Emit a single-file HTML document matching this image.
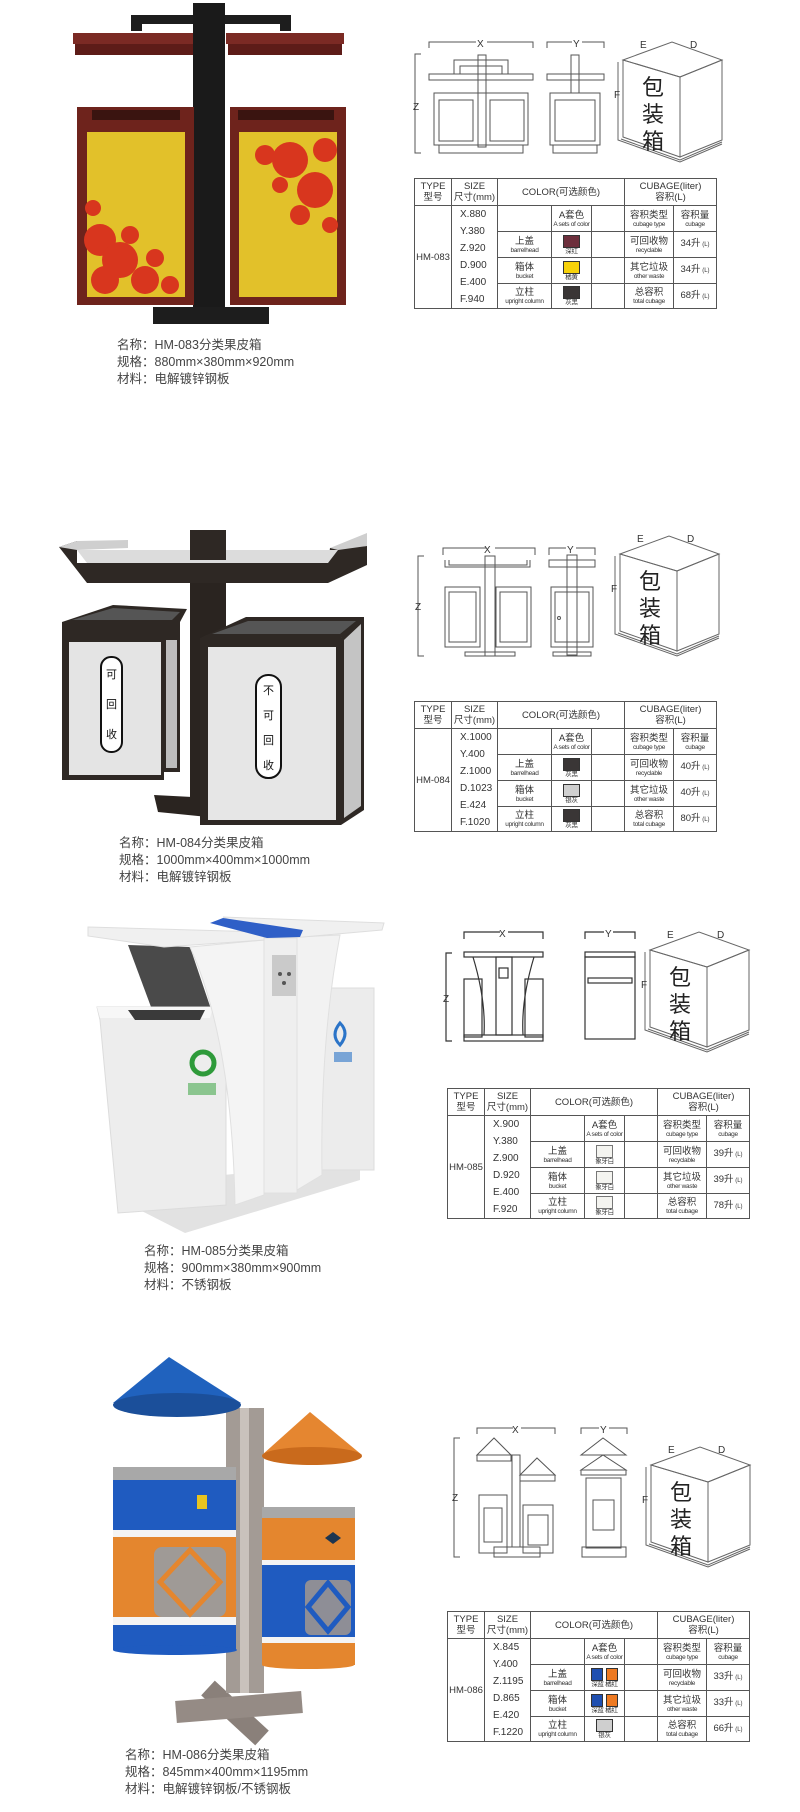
<!DOCTYPE html>
<html><head><meta charset="utf-8">
<style>
*{margin:0;padding:0;box-sizing:border-box}
body{width:800px;height:1812px;background:#fff;position:relative;overflow:hidden;font-family:"Liberation Sans","Noto Sans CJK SC",sans-serif;color:#333}
svg.bg{position:absolute;left:0;top:0}
.cap{position:absolute;font-size:12.5px;line-height:17px;color:#444;white-space:nowrap;font-family:"Liberation Sans","Noto Sans CJK SC",sans-serif}
table.t{position:absolute;border-collapse:collapse;table-layout:fixed;width:302px;height:126px;font-family:"Liberation Sans","Noto Sans CJK SC",sans-serif;color:#333}
table.t td{border:1.3px solid #555;text-align:center;vertical-align:middle;font-size:9.5px;line-height:11px;padding:0;overflow:hidden;white-space:nowrap}
.s{font-size:6.5px;line-height:7px;display:block;letter-spacing:-0.3px}
.sw{display:inline-block;width:17px;height:13px;border:1px solid #333;vertical-align:middle}
.l{font-size:6px}
table.t td.sz{line-height:17px;font-size:10px;text-align:left;padding-left:8px}
</style></head><body>
<svg class="bg" width="800" height="1812" viewBox="0 0 800 1812" xmlns="http://www.w3.org/2000/svg">
<defs>
<g id="box" fill="none" stroke="#666" stroke-width="1">
  <polygon points="5,18 54,0 104,18 62,35"/>
  <polygon points="5,18 5,95 62,115 62,35"/>
  <polygon points="62,35 104,18 104,98 62,115"/>
  <polyline points="0,20 0,98 62,120 104,102"/>
  <polyline points="3,97 62,118 104,100"/>
  <text x="22" y="6" font-size="10" fill="#333" stroke="none" font-family="Liberation Sans">E</text>
  <text x="72" y="6" font-size="10" fill="#333" stroke="none" font-family="Liberation Sans">D</text>
  <text x="-4" y="56" font-size="10" fill="#333" stroke="none" font-family="Liberation Sans">F</text>
  <text x="24" y="53" font-size="22" fill="#222" stroke="none" font-family="Noto Sans CJK SC">包</text>
  <text x="24" y="80" font-size="22" fill="#222" stroke="none" font-family="Noto Sans CJK SC">装</text>
  <text x="24" y="107" font-size="22" fill="#222" stroke="none" font-family="Noto Sans CJK SC">箱</text>
</g>
</defs>

<!-- ===== Product 1 photo ===== -->
<rect x="131" y="15" width="160" height="16" fill="#1d1d1d"/>
<rect x="142" y="24" width="138" height="8" fill="#fff"/>
<rect x="73" y="33" width="122" height="11" fill="#7b2a24"/>
<rect x="75" y="44" width="118" height="11" fill="#5d1c18"/>
<rect x="226" y="33" width="118" height="11" fill="#7b2a24"/>
<rect x="228" y="44" width="114" height="11" fill="#5d1c18"/>
<rect x="193" y="3" width="32" height="304" fill="#1a1a1a"/>
<rect x="77" y="107" width="117" height="198" fill="#6e231c"/>
<rect x="92" y="110" width="88" height="10" fill="#3a1410"/>
<rect x="87" y="132" width="98" height="165" fill="#e2c12a"/>
<rect x="230" y="107" width="116" height="198" fill="#6e231c"/>
<rect x="238" y="110" width="96" height="10" fill="#3a1410"/>
<rect x="239" y="132" width="98" height="165" fill="#e2c12a"/>
<g fill="#d8361e">
<circle cx="100" cy="240" r="16"/><circle cx="120" cy="260" r="18"/><circle cx="105" cy="280" r="14"/><circle cx="145" cy="280" r="14"/><circle cx="130" cy="235" r="9"/><circle cx="155" cy="258" r="9"/><circle cx="93" cy="208" r="8"/><circle cx="170" cy="285" r="9"/>
<circle cx="290" cy="160" r="18"/><circle cx="315" cy="190" r="18"/><circle cx="325" cy="150" r="12"/><circle cx="265" cy="155" r="10"/><circle cx="300" cy="215" r="10"/><circle cx="330" cy="225" r="8"/><circle cx="280" cy="185" r="8"/>
</g>
<rect x="153" y="307" width="116" height="17" fill="#1d1d1d"/>

<!-- drawings 1 -->
<g fill="none" stroke="#555" stroke-width="1">
<polyline points="429,48 429,42 476,42"/><polyline points="487,42 533,42 533,48"/>
<polyline points="547,48 547,42 572,42"/><polyline points="582,42 604,42 604,48"/>
<polyline points="421,54 415,54 415,153 421,153"/>
<rect x="429" y="74" width="104" height="6"/><rect x="547" y="74" width="57" height="6"/>
<path d="M454 74 V60 H508 V74 M460 74 V66 H502 V74"/>
<rect x="478" y="55" width="8" height="92"/><rect x="571" y="55" width="8" height="38"/>
<rect x="434" y="93" width="94" height="52"/><rect x="439" y="100" width="34" height="41"/><rect x="490" y="100" width="34" height="41"/>
<rect x="439" y="145" width="84" height="8"/>
<rect x="550" y="93" width="50" height="52"/><rect x="555" y="100" width="40" height="41"/><rect x="553" y="145" width="44" height="8"/>
</g>
<text x="477" y="47" font-size="10" fill="#333" font-family="Liberation Sans">X</text>
<text x="573" y="47" font-size="10" fill="#333" font-family="Liberation Sans">Y</text>
<text x="413" y="110" font-size="10" fill="#333" font-family="Liberation Sans">Z</text>
<use href="#box" x="618" y="42"/>

<!-- ===== Product 2 photo ===== -->
<rect x="190" y="530" width="36" height="280" fill="#2a2420"/>
<polygon points="154,795 250,800 238,820 158,812" fill="#2a2420"/>
<!-- roof -->
<polygon points="59,547 77,541 77,563 328,563 330,548 367,546 367,565 328,583 87,583" fill="#2e2824"/>
<polygon points="77,550 338,550 328,563 87,563" fill="#dcdcdc"/>
<polygon points="59,547 77,541 128,540 128,548 77,550" fill="#cfcfcf"/>
<polygon points="330,548 367,533 367,546 338,550" fill="#cfcfcf"/>
<rect x="190" y="530" width="36" height="30" fill="#2e2824"/>
<!-- left bin -->
<polygon points="62,622 113,605 187,609 180,622" fill="#2e2824"/>
<polygon points="72,620 113,608 180,612 172,620" fill="#555"/>
<rect x="62" y="622" width="102" height="158" fill="#2e2824"/>
<rect x="164" y="622" width="16" height="150" fill="#2e2824"/>
<rect x="69" y="642" width="92" height="133" fill="#e4e4e4"/>
<rect x="166" y="640" width="11" height="128" fill="#bdbdbd"/>
<rect x="101" y="657" width="21" height="95" rx="10" fill="#fff" stroke="#111" stroke-width="2"/>
<!-- right bin -->
<polygon points="200,638 246,617 364,617 359,630 341,638" fill="#2e2824"/>
<polygon points="212,634 248,621 356,621 340,634" fill="#555"/>
<rect x="200" y="638" width="141" height="187" fill="#2e2824"/>
<polygon points="341,638 364,617 364,810 341,825" fill="#2e2824"/>
<rect x="208" y="647" width="128" height="173" fill="#e6e6e6"/>
<polygon points="344,640 361,624 361,806 344,818" fill="#c4c4c4"/>
<rect x="256" y="675" width="25" height="103" rx="12" fill="#fff" stroke="#111" stroke-width="2"/>
<g font-family="Noto Sans CJK SC" font-size="11" fill="#111">
<text x="106" y="678">可</text><text x="106" y="708">回</text><text x="106" y="738">收</text>
<text x="263" y="694">不</text><text x="263" y="719">可</text><text x="263" y="744">回</text><text x="263" y="769">收</text>
</g>
<g fill="none" stroke="#555" stroke-width="1">
<polyline points="443,555 443,548 486,548"/><polyline points="495,548 535,548 535,555"/>
<polyline points="549,555 549,548 566,548"/><polyline points="576,548 595,548 595,555"/>
<polyline points="424,556 418,556 418,656 424,656"/>
<path d="M445 560 V567 H530 V560 M449 560 V565 H527 V560"/>
<rect x="485" y="556" width="10" height="100"/>
<rect x="445" y="587" width="35" height="60"/><rect x="449" y="592" width="27" height="50"/>
<rect x="496" y="587" width="35" height="60"/><rect x="500" y="592" width="27" height="50"/>
<rect x="465" y="652" width="50" height="4"/>
<rect x="549" y="560" width="46" height="7"/><rect x="567" y="555" width="10" height="100"/>
<rect x="551" y="587" width="42" height="60"/><rect x="555" y="592" width="34" height="50"/><circle cx="559" cy="618" r="1.5"/>
<rect x="553" y="652" width="38" height="4"/>
</g>
<text x="484" y="553" font-size="10" fill="#333" font-family="Liberation Sans">X</text>
<text x="567" y="553" font-size="10" fill="#333" font-family="Liberation Sans">Y</text>
<text x="415" y="610" font-size="10" fill="#333" font-family="Liberation Sans">Z</text>
<use href="#box" x="615" y="536"/>

<!-- ===== Product 3 photo ===== -->
<polygon points="118,1185 360,1162 360,1180 185,1233 120,1200" fill="#e2e2e2"/>
<polygon points="318,988 374,988 374,1170 318,1170" fill="#ececec" stroke="#ddd"/>
<polygon points="128,945 190,947 213,1015 154,1015" fill="#4a4a4a"/>
<polygon points="97,1007 213,1007 226,1020 226,1205 118,1213 100,1020" fill="#ededed" stroke="#dcdcdc"/>
<polygon points="97,1007 213,1007 210,1018 100,1018" fill="#f7f7f7"/>
<polygon points="128,1010 205,1010 200,1020 135,1020" fill="#3a3a3a"/>
<path d="M190 947 L264 940 L264 1195 L235 1205 Q232 1040 190 947 Z" fill="#f4f4f4" stroke="#e0e0e0"/>
<rect x="264" y="938" width="33" height="255" fill="#efefef" stroke="#e0e0e0"/>
<path d="M297 937 L340 935 Q320 1040 322 1175 L297 1190 Z" fill="#f2f2f2" stroke="#e0e0e0"/>
<polygon points="88,927 264,932 264,940 164,947 88,936" fill="#f0f0f0" stroke="#dedede"/>
<polygon points="223,917 384,923 382,930 303,937 267,938" fill="#f0f0f0" stroke="#dedede"/>
<polygon points="210,923 223,918 303,930 300,937 267,938" fill="#2f5fc7"/>
<rect x="272" y="955" width="24" height="41" fill="#cacaca"/>
<circle cx="280" cy="974" r="2" fill="#555"/><circle cx="289" cy="974" r="2" fill="#555"/><circle cx="284" cy="983" r="2" fill="#555"/>
<circle cx="203" cy="1063" r="11" fill="none" stroke="#2e9a3a" stroke-width="5"/>
<rect x="188" y="1083" width="28" height="12" fill="#4aaa50" opacity=".6"/>
<path d="M340 1023 q10 10 0 22 q-10 -10 0 -22z" fill="none" stroke="#2b74c8" stroke-width="3"/>
<rect x="334" y="1052" width="18" height="10" fill="#2b74c8" opacity=".6"/>
<g fill="none" stroke="#333" stroke-width="1.2">
<polyline points="464,939 464,932 500,932"/><polyline points="508,932 543,932 543,939"/>
<polyline points="585,939 585,932 604,932"/><polyline points="613,932 635,932 635,939"/>
<polyline points="452,953 446,953 446,1041 452,1041"/>
<rect x="464" y="952" width="79" height="5"/>
<path d="M473 957 Q486 1000 484 1035 M534 957 Q521 1000 523 1035"/>
<rect x="464" y="979" width="18" height="58"/><rect x="525" y="979" width="18" height="58"/>
<rect x="496" y="957" width="16" height="78"/><rect x="499" y="968" width="9" height="10"/>
<rect x="464" y="1035" width="79" height="6"/>
<rect x="585" y="952" width="50" height="5"/><rect x="585" y="957" width="50" height="82"/><rect x="588" y="978" width="44" height="5"/>
</g>
<text x="499" y="937" font-size="10" fill="#333" font-family="Liberation Sans">X</text>
<text x="605" y="937" font-size="10" fill="#333" font-family="Liberation Sans">Y</text>
<text x="443" y="1002" font-size="10" fill="#333" font-family="Liberation Sans">Z</text>
<use href="#box" x="645" y="932"/>

<!-- ===== Product 4 photo ===== -->
<line x1="208" y1="1688" x2="262" y2="1738" stroke="#8a807a" stroke-width="20"/>
<line x1="176" y1="1712" x2="302" y2="1702" stroke="#958b85" stroke-width="22"/>
<rect x="226" y="1408" width="38" height="285" fill="#a39b95"/>
<rect x="240" y="1408" width="9" height="285" fill="#c9c2bc"/>
<polygon points="169,1357 113,1403 241,1403" fill="#2062be"/>
<ellipse cx="177" cy="1405" rx="64" ry="12" fill="#1b4f9a"/>
<polygon points="310,1412 262,1455 362,1455" fill="#e58630"/>
<ellipse cx="312" cy="1456" rx="50" ry="9" fill="#c96a1c"/>
<rect x="113" y="1467" width="123" height="13" fill="#a8a8a8"/>
<rect x="113" y="1480" width="123" height="50" fill="#1f5bc0"/>
<rect x="113" y="1530" width="123" height="7" fill="#f4f4f4"/>
<rect x="113" y="1537" width="123" height="80" fill="#e4862e"/>
<rect x="113" y="1617" width="123" height="8" fill="#f4f4f4"/>
<rect x="113" y="1625" width="123" height="25" fill="#1f5bc0"/>
<ellipse cx="175" cy="1650" rx="62" ry="5" fill="#1f5bc0"/>
<rect x="154" y="1547" width="72" height="70" rx="8" fill="#9f9a96"/>
<path d="M190 1550 L220 1582 L190 1614 L160 1582 Z" fill="none" stroke="#e4862e" stroke-width="5"/>
<rect x="197" y="1495" width="10" height="14" fill="#e8c41e"/>
<rect x="262" y="1507" width="93" height="11" fill="#a8a8a8"/>
<rect x="262" y="1518" width="93" height="42" fill="#e4862e"/>
<rect x="262" y="1560" width="93" height="5" fill="#f4f4f4"/>
<rect x="262" y="1565" width="93" height="72" fill="#1f5bc0"/>
<rect x="262" y="1637" width="93" height="6" fill="#f4f4f4"/>
<rect x="262" y="1643" width="93" height="22" fill="#e4862e"/>
<ellipse cx="308" cy="1665" rx="46" ry="4" fill="#e4862e"/>
<rect x="305" y="1580" width="46" height="55" rx="6" fill="#8e8e96"/>
<path d="M328 1583 L348 1607 L328 1631 L308 1607 Z" fill="none" stroke="#1f5bc0" stroke-width="5"/>
<path d="M333 1532 l8 6 l-8 6 l-8 -6z" fill="#1d3550"/>
<g fill="none" stroke="#555" stroke-width="1">
<polyline points="477,1434 477,1428 513,1428"/><polyline points="521,1428 555,1428 555,1434"/>
<polyline points="581,1434 581,1428 599,1428"/><polyline points="609,1428 627,1428 627,1434"/>
<polyline points="460,1438 454,1438 454,1557 460,1557"/>
<path d="M477 1455 L494 1438 L511 1455 Z M520 1475 L537 1458 L555 1475 Z"/>
<rect x="477" y="1455" width="34" height="6"/><rect x="520" y="1475" width="35" height="6"/>
<rect x="512" y="1455" width="8" height="92"/>
<rect x="479" y="1495" width="28" height="58"/><rect x="484" y="1508" width="18" height="34"/>
<rect x="523" y="1505" width="30" height="48"/><rect x="528" y="1515" width="20" height="30"/>
<rect x="494" y="1547" width="46" height="10"/>
<path d="M581 1455 L603 1438 L626 1455 Z M581 1470 L603 1455 L626 1470 Z"/>
<rect x="581" y="1470" width="45" height="5"/><rect x="586" y="1478" width="35" height="70"/><rect x="593" y="1500" width="21" height="30"/>
<rect x="582" y="1547" width="44" height="10"/>
</g>
<text x="512" y="1433" font-size="10" fill="#333" font-family="Liberation Sans">X</text>
<text x="600" y="1433" font-size="10" fill="#333" font-family="Liberation Sans">Y</text>
<text x="452" y="1501" font-size="10" fill="#333" font-family="Liberation Sans">Z</text>
<use href="#box" x="646" y="1447"/>
</svg>

<div class="cap" style="left:117px;top:337px">名称：HM-083分类果皮箱<br>规格：880mm×380mm×920mm<br>材料：电解镀锌钢板</div>
<div class="cap" style="left:119px;top:835px">名称：HM-084分类果皮箱<br>规格：1000mm×400mm×1000mm<br>材料：电解镀锌钢板</div>
<div class="cap" style="left:144px;top:1243px">名称：HM-085分类果皮箱<br>规格：900mm×380mm×900mm<br>材料：不锈钢板</div>
<div class="cap" style="left:125px;top:1747px">名称：HM-086分类果皮箱<br>规格：845mm×400mm×1195mm<br>材料：电解镀锌钢板/不锈钢板</div>

<table class="t" style="left:414px;top:178px">
<colgroup><col style="width:37px"><col style="width:46px"><col style="width:54px"><col style="width:40px"><col style="width:33px"><col style="width:49px"><col style="width:43px"></colgroup>
<tr style="height:27px"><td>TYPE<br>型号</td><td>SIZE<br>尺寸(mm)</td><td colspan="3">COLOR(可选颜色)</td><td colspan="2">CUBAGE(liter)<br>容积(L)</td></tr>
<tr style="height:25px"><td rowspan="4">HM-083</td><td rowspan="4" class="sz">X.880<br>Y.380<br>Z.920<br>D.900<br>E.400<br>F.940</td><td></td><td>A套色<span class="s">A sets of color</span></td><td></td><td>容积类型<span class="s">cubage type</span></td><td>容积量<span class="s">cubage</span></td></tr>
<tr style="height:25px"><td>上盖<span class="s">barrelhead</span></td><td><span class="sw" style="background:#6d2f3c"></span><span class="s">深红</span></td><td></td><td>可回收物<span class="s">recyclable</span></td><td>34升<span class="l"> (L)</span></td></tr>
<tr style="height:25px"><td>箱体<span class="s">bucket</span></td><td><span class="sw" style="background:#f7d20a"></span><span class="s">橘黄</span></td><td></td><td>其它垃圾<span class="s">other waste</span></td><td>34升<span class="l"> (L)</span></td></tr>
<tr style="height:24px"><td>立柱<span class="s">upright column</span></td><td><span class="sw" style="background:#3a3636"></span><span class="s">灰黑</span></td><td></td><td>总容积<span class="s">total cubage</span></td><td>68升<span class="l"> (L)</span></td></tr>
</table>

<table class="t" style="left:414px;top:701px">
<colgroup><col style="width:37px"><col style="width:46px"><col style="width:54px"><col style="width:40px"><col style="width:33px"><col style="width:49px"><col style="width:43px"></colgroup>
<tr style="height:27px"><td>TYPE<br>型号</td><td>SIZE<br>尺寸(mm)</td><td colspan="3">COLOR(可选颜色)</td><td colspan="2">CUBAGE(liter)<br>容积(L)</td></tr>
<tr style="height:25px"><td rowspan="4">HM-084</td><td rowspan="4" class="sz">X.1000<br>Y.400<br>Z.1000<br>D.1023<br>E.424<br>F.1020</td><td></td><td>A套色<span class="s">A sets of color</span></td><td></td><td>容积类型<span class="s">cubage type</span></td><td>容积量<span class="s">cubage</span></td></tr>
<tr style="height:25px"><td>上盖<span class="s">barrelhead</span></td><td><span class="sw" style="background:#3a3636"></span><span class="s">灰黑</span></td><td></td><td>可回收物<span class="s">recyclable</span></td><td>40升<span class="l"> (L)</span></td></tr>
<tr style="height:25px"><td>箱体<span class="s">bucket</span></td><td><span class="sw" style="background:#d0d0d0"></span><span class="s">银灰</span></td><td></td><td>其它垃圾<span class="s">other waste</span></td><td>40升<span class="l"> (L)</span></td></tr>
<tr style="height:24px"><td>立柱<span class="s">upright column</span></td><td><span class="sw" style="background:#3a3636"></span><span class="s">灰黑</span></td><td></td><td>总容积<span class="s">total cubage</span></td><td>80升<span class="l"> (L)</span></td></tr>
</table>

<table class="t" style="left:447px;top:1088px">
<colgroup><col style="width:37px"><col style="width:46px"><col style="width:54px"><col style="width:40px"><col style="width:33px"><col style="width:49px"><col style="width:43px"></colgroup>
<tr style="height:27px"><td>TYPE<br>型号</td><td>SIZE<br>尺寸(mm)</td><td colspan="3">COLOR(可选颜色)</td><td colspan="2">CUBAGE(liter)<br>容积(L)</td></tr>
<tr style="height:25px"><td rowspan="4">HM-085</td><td rowspan="4" class="sz">X.900<br>Y.380<br>Z.900<br>D.920<br>E.400<br>F.920</td><td></td><td>A套色<span class="s">A sets of color</span></td><td></td><td>容积类型<span class="s">cubage type</span></td><td>容积量<span class="s">cubage</span></td></tr>
<tr style="height:25px"><td>上盖<span class="s">barrelhead</span></td><td><span class="sw" style="background:#f4f4f0;border-color:#777"></span><span class="s">象牙白</span></td><td></td><td>可回收物<span class="s">recyclable</span></td><td>39升<span class="l"> (L)</span></td></tr>
<tr style="height:25px"><td>箱体<span class="s">bucket</span></td><td><span class="sw" style="background:#f4f4f0;border-color:#777"></span><span class="s">象牙白</span></td><td></td><td>其它垃圾<span class="s">other waste</span></td><td>39升<span class="l"> (L)</span></td></tr>
<tr style="height:24px"><td>立柱<span class="s">upright column</span></td><td><span class="sw" style="background:#f4f4f0;border-color:#777"></span><span class="s">象牙白</span></td><td></td><td>总容积<span class="s">total cubage</span></td><td>78升<span class="l"> (L)</span></td></tr>
</table>

<table class="t" style="left:447px;top:1611px">
<colgroup><col style="width:37px"><col style="width:46px"><col style="width:54px"><col style="width:40px"><col style="width:33px"><col style="width:49px"><col style="width:43px"></colgroup>
<tr style="height:27px"><td>TYPE<br>型号</td><td>SIZE<br>尺寸(mm)</td><td colspan="3">COLOR(可选颜色)</td><td colspan="2">CUBAGE(liter)<br>容积(L)</td></tr>
<tr style="height:25px"><td rowspan="4">HM-086</td><td rowspan="4" class="sz">X.845<br>Y.400<br>Z.1195<br>D.865<br>E.420<br>F.1220</td><td></td><td>A套色<span class="s">A sets of color</span></td><td></td><td>容积类型<span class="s">cubage type</span></td><td>容积量<span class="s">cubage</span></td></tr>
<tr style="height:25px"><td>上盖<span class="s">barrelhead</span></td><td><span class="sw" style="background:#1f4fb0;width:12px"></span> <span class="sw" style="background:#ee7a22;width:12px"></span><span class="s">深蓝 橘红</span></td><td></td><td>可回收物<span class="s">recyclable</span></td><td>33升<span class="l"> (L)</span></td></tr>
<tr style="height:25px"><td>箱体<span class="s">bucket</span></td><td><span class="sw" style="background:#1f4fb0;width:12px"></span> <span class="sw" style="background:#ee7a22;width:12px"></span><span class="s">深蓝 橘红</span></td><td></td><td>其它垃圾<span class="s">other waste</span></td><td>33升<span class="l"> (L)</span></td></tr>
<tr style="height:24px"><td>立柱<span class="s">upright column</span></td><td><span class="sw" style="background:#cfcfcf"></span><span class="s">银灰</span></td><td></td><td>总容积<span class="s">total cubage</span></td><td>66升<span class="l"> (L)</span></td></tr>
</table>
</body></html>
